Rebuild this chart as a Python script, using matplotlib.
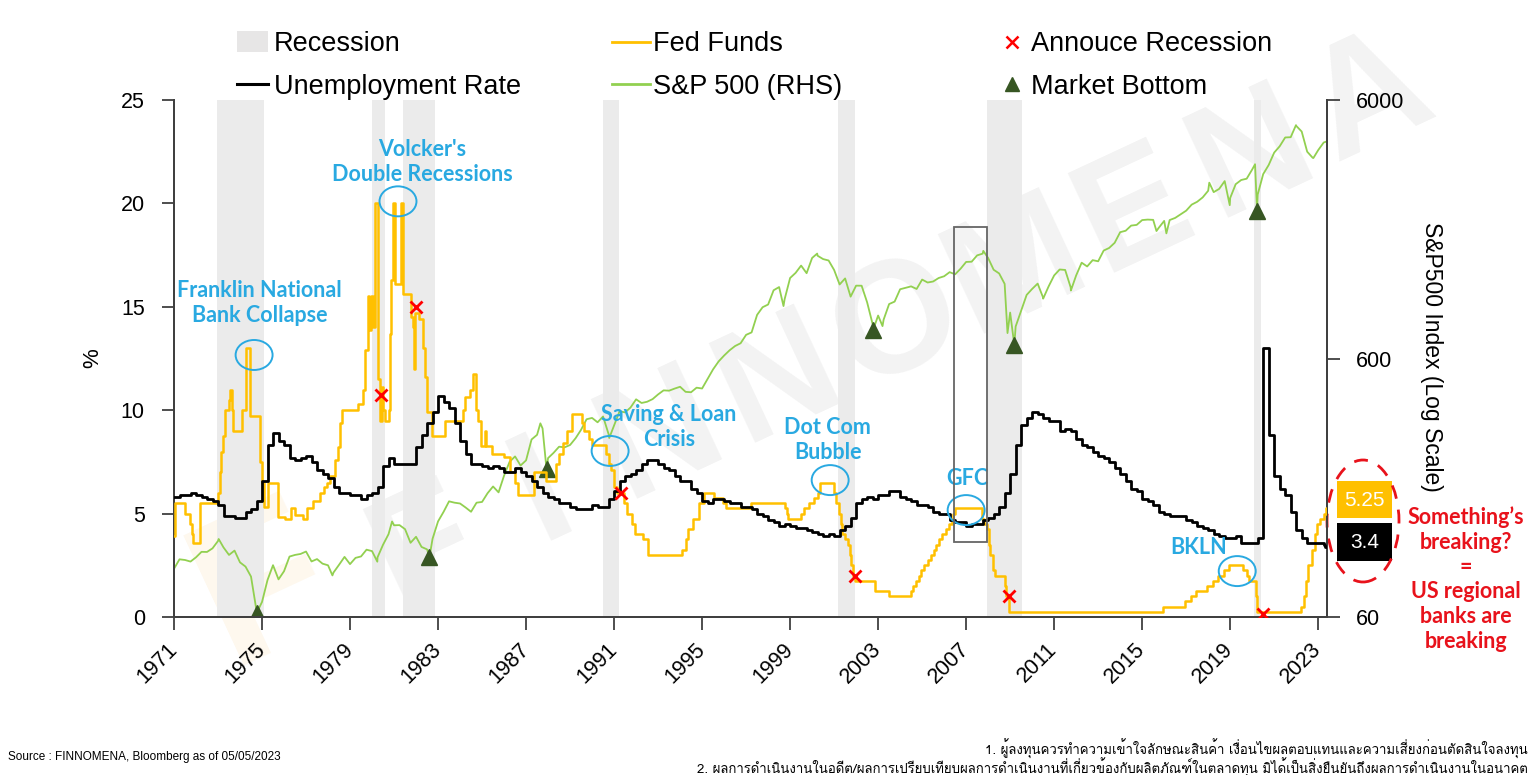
import numpy as np
import matplotlib
matplotlib.use('Agg')
import matplotlib.pyplot as plt
from matplotlib.patches import Ellipse, Rectangle, Patch
from matplotlib.lines import Line2D
from matplotlib.ticker import NullLocator
from matplotlib import font_manager
from matplotlib.ft2font import FT2Font

plt.rcParams['font.family'] = ['Liberation Sans', 'DejaVu Sans']

# หา font ที่มีอักษรไทย (ถ้ามี)
thai_font = None
for f in font_manager.fontManager.ttflist:
    if 'CJK' in f.name:
        continue
    try:
        if 0x0E01 in FT2Font(f.fname).get_charmap():
            thai_font = f.name
            break
    except Exception:
        pass

# ---------------- data ----------------
recession_start = [1972.95, 1979.98, 1981.4, 1990.5, 2001.18, 2007.95, 2020.1]
recession_end = [1975.1, 1980.6, 1982.86, 1991.23, 2001.95, 2009.55, 2020.4]

# Fed Funds (step) : year, rate
fed_years = [1970.97, 1971.03, 1971.5, 1971.73, 1971.8, 1971.88, 1972.18, 1973.0, 1973.08,
             1973.15, 1973.23, 1973.32, 1973.5, 1973.55, 1973.62, 1973.7, 1974.08, 1974.28,
             1974.45, 1974.9, 1975.0, 1975.1, 1975.29, 1975.74, 1976.05, 1976.3, 1976.5,
             1976.85, 1977.03, 1977.33, 1977.64, 1977.8, 1977.94, 1978.09, 1978.32, 1978.47,
             1978.55, 1978.62, 1979.38, 1979.6, 1979.68, 1979.8, 1979.87, 1979.95, 1980.05,
             1980.14, 1980.26, 1980.35, 1980.45, 1980.52, 1980.6, 1980.75, 1980.82, 1980.88,
             1980.94, 1981.05, 1981.3, 1981.39, 1981.78, 1981.86, 1981.92, 1981.96, 1982.15,
             1982.3, 1982.42, 1982.5, 1982.72, 1983.3, 1984.15, 1984.23, 1984.45, 1984.61,
             1984.73, 1984.8, 1984.95, 1985.13, 1985.2, 1985.45, 1986.0, 1986.27, 1986.5,
             1986.65, 1987.35, 1987.9, 1988.35, 1988.5, 1988.7, 1988.85, 1989.1, 1989.55,
             1989.65, 1989.85, 1990.0, 1990.62, 1990.75, 1990.85, 1991.0, 1991.15, 1991.45,
             1991.6, 1991.8, 1991.95, 1992.3, 1992.55, 1994.1, 1994.25, 1994.35, 1994.6,
             1994.88, 1995.1, 1995.55, 1995.95, 1996.1, 1997.2, 1998.75, 1998.85, 1998.92,
             1999.5, 1999.65, 1999.88, 2000.1, 2000.25, 2000.38, 2001.0, 2001.08, 2001.2,
             2001.3, 2001.38, 2001.48, 2001.65, 2001.7, 2001.78, 2001.85, 2001.95, 2002.86,
             2003.48, 2004.5, 2004.6, 2004.7, 2004.85, 2004.95, 2005.1, 2005.25, 2005.4,
             2005.55, 2005.65, 2005.75, 2005.9, 2006.1, 2006.2, 2006.35, 2006.4, 2006.5,
             2007.7, 2007.83, 2007.95, 2008.05, 2008.08, 2008.22, 2008.33, 2008.77, 2008.83,
             2008.96, 2015.95, 2016.95, 2017.2, 2017.45, 2017.95, 2018.2, 2018.45, 2018.7,
             2018.95, 2019.6, 2019.75, 2019.85, 2020.17, 2020.22, 2022.2, 2022.35, 2022.45,
             2022.55, 2022.7, 2022.85, 2022.95, 2023.1, 2023.25, 2023.35]
fed_rates = [3.9, 5.5, 5.0, 4.5, 4.0, 3.56, 5.5, 6.0, 7.0,
             8.0, 8.75, 10.0, 10.5, 11.0, 10.0, 9.0, 10.0, 13.0,
             9.7, 7.5, 6.5, 5.3, 6.5, 4.85, 4.75, 5.25, 4.95,
             4.75, 5.25, 5.6, 6.0, 6.3, 6.5, 6.8, 7.6, 8.2,
             9.4, 10.0, 10.3, 11.0, 12.9, 15.5, 13.9, 15.5, 14.0,
             20.0, 11.5, 9.5, 11.1, 10.0, 9.5, 10.0, 13.7, 16.3,
             20.0, 16.1, 20.0, 15.6, 14.5, 14.0, 12.0, 14.7, 14.4,
             13.0, 11.6, 9.9, 8.75, 9.5, 10.0, 10.65, 11.0, 11.75,
             10.0, 9.5, 8.25, 9.0, 8.25, 7.9, 7.75, 7.0, 6.5,
             5.9, 7.0, 6.6, 7.4, 7.9, 8.4, 9.0, 9.8, 9.4,
             9.0, 8.6, 8.3, 7.9, 7.4, 7.1, 6.3, 6.0, 5.5,
             5.0, 4.5, 4.0, 3.75, 3.0, 3.25, 3.75, 4.25, 4.75,
             5.5, 6.0, 5.75, 5.5, 5.25, 5.5, 5.25, 5.0, 4.75,
             5.0, 5.25, 5.5, 5.75, 6.0, 6.5, 6.0, 5.5, 5.0,
             4.5, 4.0, 3.75, 3.5, 3.0, 2.5, 2.0, 1.75, 1.25,
             1.0, 1.25, 1.5, 1.75, 2.0, 2.25, 2.5, 2.75, 3.0,
             3.25, 3.5, 3.75, 4.0, 4.25, 4.5, 4.75, 5.0, 5.25,
             4.75, 4.5, 4.25, 3.5, 3.0, 2.25, 2.0, 1.5, 1.0,
             0.25, 0.5, 0.75, 1.0, 1.25, 1.5, 1.75, 2.0, 2.25,
             2.5, 2.25, 2.0, 1.75, 1.0, 0.25, 0.5, 1.0, 1.75,
             2.5, 3.25, 4.0, 4.5, 4.75, 5.0, 5.25]

# Unemployment rate, quarterly (Q4 1970 .. Q1 2023), then Apr 2023
unemp_q = [5.8,
           5.9, 5.9, 6.0, 5.9, 5.8, 5.7, 5.6, 5.4, 4.9, 4.9, 4.8, 4.8,   # 71-73
           5.1, 5.2, 5.6, 6.6, 8.3, 8.9, 8.5, 8.3, 7.7, 7.6, 7.7, 7.8,   # 74-76
           7.5, 7.1, 6.9, 6.7, 6.3, 6.0, 6.0, 5.9, 5.9, 5.7, 5.9, 6.0,   # 77-79
           6.3, 7.3, 7.7, 7.4, 7.4, 7.4, 7.4, 8.2, 8.8, 9.4, 9.9, 10.7,  # 80-82
           10.4, 10.1, 9.4, 8.5, 7.9, 7.4, 7.4, 7.3, 7.2, 7.3, 7.2, 7.0,  # 83-85
           7.0, 7.2, 7.0, 6.8, 6.6, 6.3, 6.0, 5.8, 5.7, 5.5, 5.5, 5.3,   # 86-88
           5.2, 5.2, 5.2, 5.4, 5.3, 5.3, 5.7, 6.1, 6.6, 6.8, 6.9, 7.1,   # 89-91
           7.4, 7.6, 7.6, 7.4, 7.2, 7.1, 6.8, 6.6, 6.6, 6.2, 6.0, 5.6,   # 92-94
           5.5, 5.7, 5.7, 5.6, 5.5, 5.5, 5.3, 5.3, 5.2, 5.0, 4.9, 4.7,   # 95-97
           4.6, 4.4, 4.5, 4.4, 4.3, 4.3, 4.2, 4.1, 4.0, 3.9, 4.0, 3.9,   # 98-00
           4.2, 4.4, 4.8, 5.5, 5.7, 5.8, 5.7, 5.9, 5.9, 6.1, 6.1, 5.8,   # 01-03
           5.7, 5.6, 5.4, 5.4, 5.3, 5.1, 5.0, 5.0, 4.7, 4.6, 4.6, 4.4,   # 04-06
           4.5, 4.5, 4.7, 4.8, 5.0, 5.3, 6.0, 6.9, 8.3, 9.3, 9.6, 9.9,   # 07-09
           9.8, 9.6, 9.5, 9.5, 9.0, 9.1, 9.0, 8.6, 8.3, 8.2, 8.0, 7.8,   # 10-12
           7.7, 7.5, 7.2, 6.9, 6.6, 6.2, 6.1, 5.7, 5.6, 5.4, 5.1, 5.0,   # 13-15
           4.9, 4.9, 4.9, 4.7, 4.6, 4.4, 4.3, 4.2, 4.0, 3.9, 3.8, 3.8,   # 16-18
           3.9, 3.6, 3.6, 3.6, 3.8, 13.0, 8.8, 6.8, 6.2, 5.9, 5.1, 4.2,  # 19-21
           3.8, 3.6, 3.6, 3.6, 3.5, 3.4]                                 # 22-23

# S&P 500 quarter-end closes (Q1 1971 .. Q1 2023)
sp_start = 92.2
sp_q = [100.3, 99.7, 98.3, 102.1, 107.2, 107.1, 110.6, 118.1, 111.5, 104.3, 108.4, 97.6,
        94.0, 86.0, 63.5, 68.6, 83.4, 95.2, 83.9, 90.2, 102.8, 104.3, 105.2, 107.5,
        98.4, 100.5, 96.5, 95.1, 89.2, 95.5, 102.5, 96.1, 101.6, 102.9, 109.3, 107.9,
        102.1, 114.2, 125.5, 135.8, 136.0, 131.2, 116.2, 122.6, 112.0, 109.6, 120.4, 140.6,
        153.0, 168.1, 166.1, 164.9, 159.2, 153.2, 166.1, 167.2, 180.7, 191.9, 182.1, 211.3,
        238.9, 250.8, 231.3, 242.2, 291.7, 304.0, 321.8, 247.1, 258.9, 273.5, 271.9, 277.7,
        294.9, 318.0, 349.2, 353.4, 339.9, 358.0, 306.1, 330.2, 375.2, 371.2, 387.9, 417.1,
        403.7, 408.1, 417.8, 435.7, 451.7, 450.5, 458.9, 466.5, 445.8, 444.3, 462.7, 459.3,
        500.7, 544.8, 584.4, 615.9, 645.5, 670.6, 687.3, 740.7, 757.1, 885.1, 947.3, 970.4,
        1101.8, 1133.8, 1017.0, 1229.2, 1286.4, 1372.7, 1282.7, 1469.3, 1498.6, 1454.6, 1436.5, 1320.3,
        1160.3, 1224.4, 1040.9, 1148.1, 1147.4, 989.8, 815.3, 879.8, 848.2, 974.5, 996.0, 1111.9,
        1126.2, 1140.8, 1114.6, 1211.9, 1180.6, 1191.3, 1228.8, 1248.3, 1294.8, 1270.2, 1335.9, 1418.3,
        1420.9, 1503.4, 1526.8, 1468.4, 1322.7, 1280.0, 1166.4, 903.3, 797.9, 919.3, 1057.1, 1115.1,
        1169.4, 1030.7, 1141.2, 1257.6, 1325.8, 1320.6, 1131.4, 1257.6, 1408.5, 1362.2, 1440.7, 1426.2,
        1569.2, 1606.3, 1681.6, 1848.4, 1872.3, 1960.2, 1972.3, 2058.9, 2067.9, 2063.1, 1920.0, 2043.9,
        2059.7, 2098.9, 2168.3, 2238.8, 2362.7, 2423.4, 2519.4, 2673.6, 2640.9, 2718.4, 2914.0, 2506.9,
        2834.4, 2941.8, 2976.7, 3230.8, 2584.6, 3100.3, 3363.0, 3756.1, 3972.9, 4297.5, 4307.5, 4766.2,
        4530.4, 3785.4, 3585.6, 3839.5, 4109.3]
# intra-quarter highs / lows
sp_extra_years = [1973.03, 1978.2, 1980.24, 1980.91, 1987.65, 1990.78, 1998.7, 2000.23, 2003.2,
                  2007.78, 2008.88, 2010.5, 2011.76, 2015.65, 2016.1, 2018.05, 2018.98, 2020.13,
                  2021.99, 2022.78, 2023.35]
sp_extra_values = [120.2, 86.9, 98.2, 140.5, 336.8, 295.5, 957.3, 1527.5, 800.7,
                   1565.2, 752.4, 1022.6, 1099.2, 1867.6, 1829.1, 2872.9, 2351.1, 3386.2,
                   4796.6, 3577.0, 4136.3]

bottom_years = [1974.76, 1982.61, 1987.93, 2002.78, 2009.19, 2020.22]
bottom_values = [62.3, 102.4, 223.9, 776.8, 676.5, 2237.4]

announce_years = [1980.4, 1982.0, 1991.3, 2001.95, 2008.95, 2020.5]
announce_values = [10.75, 15.0, 6.0, 2.0, 1.0, 0.15]

x_ticks = list(range(1971, 2024, 4))

events = ['Franklin National\nBank Collapse', "Volcker's\nDouble Recessions",
          'Saving & Loan\nCrisis', 'Dot Com\nBubble', 'GFC', 'BKLN']
event_circle_x = [1974.64, 1981.18, 1990.82, 2000.82, 2007.0, 2019.32]
event_circle_y = [12.67, 20.1, 8.03, 6.62, 5.17, 2.22]
event_text_x = [1974.9, 1982.3, 1993.5, 2000.7, 2007.05, 2017.55]
event_text_y = [15.18, 22.0, 9.19, 8.56, 6.72, 3.34]

last_fed = '5.25'
last_unemp = '3.4'

# ---------------- colours ----------------
c_fed = '#FFC000'
c_sp = '#92D050'
c_rec = '#EBEBEB'
c_bottom = '#375623'
c_blue = '#29A9E1'
c_red = '#E8121B'
c_spine = '#404040'

x_end = 2023.4

fig = plt.figure(figsize=(15.36, 7.75), dpi=100)
ax = fig.add_axes([174 / 1536, 1 - 617 / 775, 1153 / 1536, 517 / 775])
ax2 = ax.twinx()
ax.set_zorder(2)
ax.patch.set_visible(False)

# watermark
wm_x = np.linspace(425, 1370, 9) / 1536
wm_y = 1 - np.linspace(550, 100, 9) / 775
for ch, wx, wy in zip('FINNOMENA', wm_x, wm_y):
    fig.text(wx, wy, ch, fontsize=115, fontweight='bold', color='black', alpha=0.05,
             rotation=25, ha='center', va='center', zorder=-1)
fig.text(265 / 1536, 1 - 590 / 775, 'F', fontsize=150, fontweight='bold', color='#F5A623',
         alpha=0.08, rotation=25, ha='center', va='center', zorder=-1)

# recessions
for s, e in zip(recession_start, recession_end):
    ax2.axvspan(s, e, color=c_rec, lw=0, zorder=0)

# S&P 500
sp_x = np.concatenate([[1971.0], 1971.25 + 0.25 * np.arange(len(sp_q)), sp_extra_years, bottom_years])
sp_y = np.concatenate([[sp_start], sp_q, sp_extra_values, bottom_values])
order = np.argsort(sp_x)
ax2.plot(sp_x[order], sp_y[order], color=c_sp, lw=1.3, zorder=2)
ax2.plot(bottom_years, bottom_values, ls='none', marker='^', ms=11, color=c_bottom, zorder=3)

ax2.set_yscale('log')
ax2.set_ylim(60, 6000)
ax2.set_yticks([60, 600, 6000])
ax2.set_yticklabels(['60', '600', '6000'])
ax2.yaxis.set_minor_locator(NullLocator())

# Fed funds & unemployment
ax.step(np.append(fed_years, x_end), np.append(fed_rates, fed_rates[-1]), where='post',
        color=c_fed, lw=1.8, zorder=3)
un_x = np.append(1971.0 + 0.25 * np.arange(len(unemp_q) - 1), [2023.33, x_end])
un_y = np.append(unemp_q, unemp_q[-1])
ax.step(un_x, un_y, where='post', color='black', lw=2.0, zorder=4)
ax.plot(announce_years, announce_values, ls='none', marker='x', ms=9, mew=2, color='red', zorder=5)

# events
for lab, cx, cy, tx, ty in zip(events, event_circle_x, event_circle_y, event_text_x, event_text_y):
    ax.add_patch(Ellipse((cx, cy), 1.68, 1.45, fill=False, ec=c_blue, lw=1.4, zorder=6))
    ax.text(tx, ty, lab, color=c_blue, fontsize=15.5, fontweight='bold', family='Lato',
            ha='center', va='center', linespacing=1.2, zorder=6)

ax.add_patch(Rectangle((2006.45, 3.62), 1.5, 15.25, fill=False, ec='#666666', lw=1.3, zorder=6))

ax.set_xlim(1971, x_end)
ax.set_ylim(0, 25)
ax.set_yticks(range(0, 26, 5))
ax.set_xticks(x_ticks)
ax.set_xticklabels([str(y) for y in x_ticks], rotation=45, ha='right', va='center',
                   rotation_mode='anchor')

for a in (ax, ax2):
    a.spines['top'].set_visible(False)
    for sp in ('left', 'right', 'bottom'):
        a.spines[sp].set_color(c_spine)
        a.spines[sp].set_linewidth(1.4)
ax.tick_params(axis='y', direction='out', length=9, width=1.3, colors=c_spine,
               labelcolor='black', labelsize=15.5, pad=12)
ax.tick_params(axis='x', direction='out', length=9, width=1.3, colors=c_spine,
               labelcolor='black', labelsize=15.5, pad=12)
ax2.tick_params(axis='y', direction='out', length=9, width=1.3, colors=c_spine,
                labelcolor='black', labelsize=15.5, pad=12)

fig.text(93 / 1536, 1 - 358 / 775, '%', fontsize=16, rotation=90, ha='center', va='center')
fig.text(1432 / 1536, 1 - 357 / 775, 'S&P500 Index (Log Scale)', fontsize=16.5, rotation=-90,
         ha='center', va='center')

# legends
h_rec = Patch(facecolor='#E7E6E6', edgecolor='none', label='Recession')
h_un = Line2D([], [], color='black', lw=2.2, label='Unemployment Rate')
h_fed = Line2D([], [], color=c_fed, lw=2, label='Fed Funds')
h_sp = Line2D([], [], color=c_sp, lw=2, label='S&P 500 (RHS)')
h_ann = Line2D([], [], color='red', marker='x', ls='none', ms=9, mew=1.8, label='Annouce Recession')
h_bot = Line2D([], [], color=c_bottom, marker='^', ls='none', ms=10, label='Market Bottom')
leg_kw = dict(loc='upper left', frameon=False, fontsize=19.5, borderpad=0, borderaxespad=0,
              labelspacing=0.62)
fig.legend(handles=[h_rec, h_un], bbox_to_anchor=(237 / 1536, 1 - 31 / 775),
           handlelength=1.15, handleheight=0.8, handletextpad=0.22, **leg_kw)
fig.legend(handles=[h_fed, h_sp], bbox_to_anchor=(612 / 1536, 1 - 31 / 775),
           handlelength=1.4, handletextpad=0.12, **leg_kw)
fig.legend(handles=[h_ann, h_bot], bbox_to_anchor=(1003 / 1536, 1 - 31 / 775),
           handlelength=0.7, handletextpad=0.35, **leg_kw)

# right-hand latest values
fig.add_artist(Rectangle((1337 / 1536, 1 - 518 / 775), 55 / 1536, 37 / 775,
                         transform=fig.transFigure, fc=c_fed, ec='none'))
fig.add_artist(Rectangle((1337 / 1536, 1 - 561 / 775), 55 / 1536, 38 / 775,
                         transform=fig.transFigure, fc='black', ec='none'))
fig.text(1364.5 / 1536, 1 - 500 / 775, last_fed, color='white', fontsize=15, ha='center', va='center')
fig.text(1364.5 / 1536, 1 - 542 / 775, last_unemp, color='white', fontsize=15, ha='center', va='center')
fig.add_artist(Ellipse((1363 / 1536, 1 - 521 / 775), 72 / 1536, 122 / 775, transform=fig.transFigure,
                       fill=False, ec=c_red, lw=2, ls=(0, (5, 4))))
fig.text(1466 / 1536, 1 - 579 / 775,
         'Something\u2019s\nbreaking?\n=\nUS regional\nbanks are\nbreaking',
         color=c_red, fontsize=15.5, fontweight='bold', family='Lato', ha='center', va='center',
         linespacing=1.22)

# footer
fig.text(8 / 1536, 1 - 757 / 775, 'Source : FINNOMENA, Bloomberg as of 05/05/2023',
         fontsize=8.5, ha='left', va='center')
thai_kw = dict(fontsize=9.5, ha='right', va='center')
if thai_font:
    thai_kw['family'] = [thai_font, 'DejaVu Sans']
fig.text(1528 / 1536, 1 - 749 / 775,
         '1. ผู้ลงทุนควรทำความเข้าใจลักษณะสินค้า เงื่อนไขผลตอบแทนและความเสี่ยงก่อนตัดสินใจลงทุน', **thai_kw)
fig.text(1528 / 1536, 1 - 768 / 775,
         '2. ผลการดำเนินงานในอดีต/ผลการเปรียบเทียบผลการดำเนินงานที่เกี่ยวข้องกับผลิตภัณฑ์ในตลาดทุน '
         'มิได้เป็นสิ่งยืนยันถึงผลการดำเนินงานในอนาคต', **thai_kw)

fig.savefig('out.png', dpi=100)
